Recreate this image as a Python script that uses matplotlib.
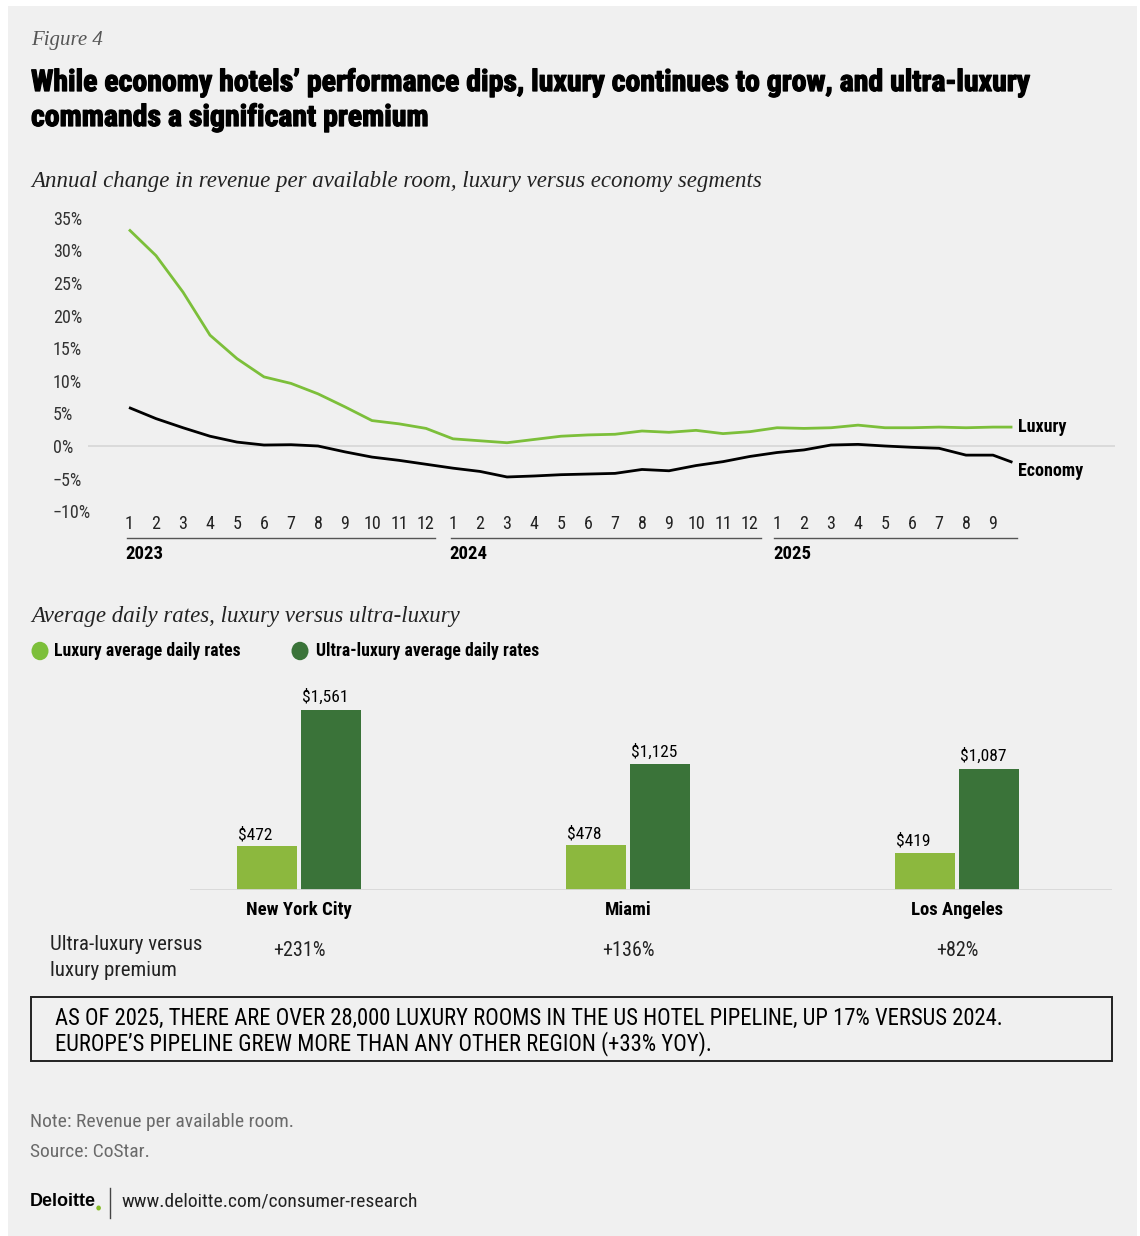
import matplotlib
matplotlib.use("Agg")
import matplotlib.pyplot as plt
import matplotlib.patheffects as pe
from matplotlib.patches import Rectangle, Circle
from matplotlib.lines import Line2D
import numpy as np

# ---------------- data ----------------
months = [str(m) for m in range(1, 13)] * 2 + [str(m) for m in range(1, 10)]
years = ["2023", "2024", "2025"]
luxury = [33.2, 29.2, 23.6, 17.0, 13.4, 10.6, 9.6, 8.0, 6.0, 3.9, 3.4, 2.7,
          1.1, 0.8, 0.5, 1.0, 1.5, 1.7, 1.8, 2.3, 2.1, 2.4, 1.9, 2.2,
          2.8, 2.7, 2.8, 3.2, 2.8, 2.8, 2.9, 2.8, 2.9, 2.9]
economy = [5.9, 4.2, 2.8, 1.5, 0.6, 0.15, 0.2, 0.0, -0.9, -1.7, -2.2, -2.8,
           -3.4, -3.9, -4.75, -4.6, -4.4, -4.3, -4.2, -3.6, -3.8, -3.0, -2.4, -1.6,
           -1.0, -0.6, 0.15, 0.25, 0.0, -0.2, -0.35, -1.4, -1.4, -2.5]
yticks = [35, 30, 25, 20, 15, 10, 5, 0, -5, -10]

cities = ["New York City", "Miami", "Los Angeles"]
lux_adr = [472, 478, 419]
ultra_adr = [1561, 1125, 1087]
premium = ["+231%", "+136%", "+82%"]

# ---------------- style ----------------
W, H = 1140, 1236
BG = "#f0f0f0"
C_LUX_LINE = "#7cbf3a"
C_LIGHT = "#8cb83e"
C_DARK = "#3a7339"
NARROW = ["Liberation Sans Narrow", "Roboto Condensed", "DejaVu Sans"]
SERIF = ["Liberation Serif", "DejaVu Serif"]

fig = plt.figure(figsize=(W / 100, H / 100), dpi=100)
fig.patch.set_facecolor("white")


def fx(x):
    return x / W


def fy(y):
    return 1 - y / H


fig.patches.append(Rectangle((fx(8), 0), fx(1137) - fx(8), fy(6), transform=fig.transFigure,
                             facecolor=BG, edgecolor="none", zorder=-10))

# ---------------- header ----------------
fig.text(fx(31), fy(40), "Figure 4", family=SERIF, style="italic", fontsize=15,
         color="#555555", va="center")
heavy = [pe.withStroke(linewidth=0.9, foreground="black")]
fig.text(fx(31), fy(83), "While economy hotels\u2019 performance dips, luxury continues to grow, and ultra-luxury",
         family=NARROW, weight="bold", fontsize=21.5, color="black", va="center",
         path_effects=heavy)
fig.text(fx(31), fy(118), "commands a significant premium",
         family=NARROW, weight="bold", fontsize=21.5, color="black", va="center",
         path_effects=heavy)
fig.text(fx(31), fy(182), "Annual change in revenue per available room, luxury versus economy segments",
         family=SERIF, style="italic", fontsize=16.5, color="#222222", va="center")

# ---------------- line chart ----------------
x0px, x1px = 88, 1115
ytop, ybot = 205, 516
ppu_x = 27.0   # px per month
ppu_y = 6.52   # px per percent
zero_px = 446
ax = fig.add_axes([fx(x0px), fy(ybot), fx(x1px) - fx(x0px), fy(ytop) - fy(ybot)])
ax.set_facecolor("none")
ax.set_xlim((x0px - 129) / ppu_x, (x1px - 129) / ppu_x)
ax.set_ylim(-(ybot - zero_px) / ppu_y, (zero_px - ytop) / ppu_y)
for s in ax.spines.values():
    s.set_visible(False)
ax.set_xticks([])
ax.set_yticks(yticks)
ax.set_yticklabels([f"{v}%".replace("-", "\u2212") for v in yticks], family=NARROW,
                   fontsize=13, color="#333333")
for lab in ax.get_yticklabels():
    lab.set_ha("left")
ax.tick_params(axis="y", length=0, pad=(x0px - 53) * 0.72)

ax.axhline(0, color="#d6d6d6", lw=1.2, zorder=1)
xs = np.arange(len(luxury), dtype=float)
xs[-1] = len(luxury) - 2 + 0.72
ax.plot(xs, luxury, color=C_LUX_LINE, lw=2.0, solid_capstyle="butt", zorder=3)
ax.plot(xs, economy, color="black", lw=2.0, solid_capstyle="butt", zorder=3)
ax.text(xs[-1] + 0.2, luxury[-1], "Luxury", family=NARROW, weight="bold", fontsize=13,
        va="center", ha="left")
ax.text(xs[-1] + 0.2, economy[-1] - 1.4, "Economy", family=NARROW, weight="bold", fontsize=13,
        va="center", ha="left")

y_month = -(524 - zero_px) / ppu_y
y_rule = -(538 - zero_px) / ppu_y
y_year = -(554 - zero_px) / ppu_y
for i, m in enumerate(months):
    ax.text(i, y_month, m, family=NARROW, fontsize=13, ha="center", va="center",
            color="#222222", clip_on=False)
rule_starts = [-0.08, 11.93, 23.9]
rule_ends = [11.35, 23.4, 32.9]
year_starts = [0, 12, 24]
for ra, rb, ys, yr in zip(rule_starts, rule_ends, year_starts, years):
    ax.add_line(Line2D([ra, rb], [y_rule, y_rule], color="#555555", lw=1.0, clip_on=False))
    ax.text(ys - 0.15, y_year, yr, family=NARROW, weight="bold", fontsize=13.5, ha="left",
            va="center", clip_on=False)

# ---------------- bar chart ----------------
fig.text(fx(31), fy(616), "Average daily rates, luxury versus ultra-luxury",
         family=SERIF, style="italic", fontsize=16.5, color="#222222", va="center")
# legend
fig.patches.append(Circle((fx(40), fy(651)), radius=8.5 / W, transform=fig.transFigure,
                          facecolor=C_LUX_LINE, edgecolor="none"))
fig.patches.append(Circle((fx(300), fy(651)), radius=8.5 / W, transform=fig.transFigure,
                          facecolor=C_DARK, edgecolor="none"))
fig.text(fx(54), fy(651), "Luxury average daily rates", family=NARROW, weight="bold",
         fontsize=12.7, va="center")
fig.text(fx(316), fy(651), "Ultra-luxury average daily rates", family=NARROW, weight="bold",
         fontsize=12.7, va="center")

bx0, bx1 = 190, 1112
btop, bbot = 680, 890
ppd = 0.1249
base_val = 120
bx = fig.add_axes([fx(bx0), fy(bbot), fx(bx1) - fx(bx0), fy(btop) - fy(bbot)])
bx.set_facecolor("none")
for s in bx.spines.values():
    s.set_visible(False)
bx.set_xticks([])
bx.set_yticks([])
grp_px = [299, 628, 957]
bx.set_xlim(0, bx1 - bx0)
bx.set_ylim(base_val, base_val + (bbot - btop) / ppd)
bw = 60
gx = np.array(grp_px) - bx0
bx.bar(gx - 2 - bw, lux_adr, width=bw, align="edge", bottom=0, color=C_LIGHT, zorder=2)
bx.bar(gx + 2, ultra_adr, width=bw, align="edge", bottom=0, color=C_DARK, zorder=2)
bx.axhline(base_val, color="#d8d8d8", lw=2.0, zorder=3)
for g, l, u in zip(gx, lux_adr, ultra_adr):
    bx.text(g - 2 - bw + 1, l + 30, f"${l:,}", family=NARROW, fontsize=12.5,
            ha="left", va="bottom")
    bx.text(g + 2 + 1, u + 40, f"${u:,}", family=NARROW, fontsize=12.5,
            ha="left", va="bottom")

for g, c, p in zip(grp_px, cities, premium):
    fig.text(fx(g), fy(910), c, family=NARROW, weight="bold", fontsize=13.5,
             ha="center", va="center")
    fig.text(fx(g), fy(951), p, family=NARROW, fontsize=14.5, ha="center", va="center",
             color="#222222")
fig.text(fx(50), fy(945), "Ultra-luxury versus", family=NARROW, fontsize=15,
         va="center", color="#222222")
fig.text(fx(50), fy(971), "luxury premium", family=NARROW, fontsize=15,
         va="center", color="#222222")

# ---------------- callout ----------------
fig.patches.append(Rectangle((fx(31), fy(1061)), fx(1112) - fx(31), fy(997) - fy(1061),
                             transform=fig.transFigure, facecolor="none",
                             edgecolor="#222222", lw=1.4))
fig.text(fx(55), fy(1018),
         "AS OF 2025, THERE ARE OVER 28,000 LUXURY ROOMS IN THE US HOTEL PIPELINE, UP 17% VERSUS 2024.",
         family=NARROW, fontsize=16.3, va="center", color="black")
fig.text(fx(55), fy(1044),
         "EUROPE\u2019S PIPELINE GREW MORE THAN ANY OTHER REGION (+33% YOY).",
         family=NARROW, fontsize=16.3, va="center", color="black")

# ---------------- footer ----------------
fig.text(fx(30), fy(1122), "Note: Revenue per available room.", family=NARROW,
         fontsize=14, va="center", color="#6a6a6a")
fig.text(fx(30), fy(1152), "Source: CoStar.", family=NARROW,
         fontsize=14, va="center", color="#6a6a6a")
t = fig.text(fx(30), fy(1202), "Deloitte", family=["Liberation Sans", "DejaVu Sans"],
             weight="bold", fontsize=13, va="center", color="black")
fig.canvas.draw()
bb = t.get_window_extent()
fig.patches.append(Circle((bb.x1 / W + 2.6 / W, fy(1208)), radius=2.3 / W,
                          transform=fig.transFigure, facecolor="#86bc25", edgecolor="none"))
fig.lines.append(Line2D([fx(110), fx(110)], [fy(1188), fy(1218)], transform=fig.transFigure,
                        color="#444444", lw=1.0))
fig.text(fx(121), fy(1202), "www.deloitte.com/consumer-research", family=NARROW,
         fontsize=14, va="center", color="#222222")

fig.savefig("out.png", dpi=100, facecolor=fig.get_facecolor())
